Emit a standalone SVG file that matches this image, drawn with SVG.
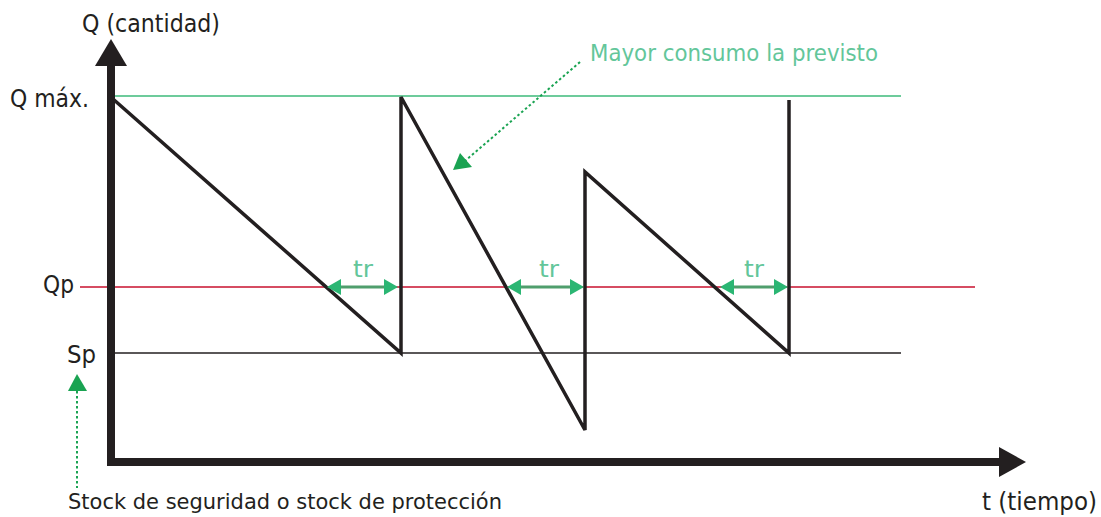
<svg xmlns="http://www.w3.org/2000/svg" width="1101" height="517" viewBox="0 0 1101 517">
<style>
.lbl{font-family:"DejaVu Sans","Liberation Sans",sans-serif;fill:#231f20}
.grn{font-family:"DejaVu Sans","Liberation Sans",sans-serif;fill:#63c69a}
.axis{stroke:#231f20;stroke-width:8;fill:none}
.saw{stroke:#231f20;stroke-width:3.5;fill:none;stroke-linejoin:miter}
.dot{stroke:#1aa352;stroke-width:2;stroke-dasharray:2.5 2.5;fill:none}
.tr{stroke:#4f9e6c;stroke-width:3}
.trh{fill:#2bb673}
</style>
<rect width="1101" height="517" fill="#ffffff"/>
<g id="levels">
<line x1="113" y1="96" x2="901" y2="96" stroke="#3dba7a" stroke-width="1.6"/>
<line x1="80" y1="287" x2="975" y2="287" stroke="#c8102e" stroke-width="1.6"/>
<line x1="113" y1="353" x2="901" y2="353" stroke="#231f20" stroke-width="1.6"/>
</g>
<g id="axes">
<line class="axis" x1="111" y1="64" x2="111" y2="466"/>
<polygon points="95,66 111,39 127,66" fill="#231f20"/>
<line class="axis" x1="107" y1="462" x2="1001" y2="462"/>
<polygon points="999,447 1026,462 999,477" fill="#231f20"/>
</g>
<g id="sawtooth">
<polyline class="saw" points="113,99 401,353 401,97 585,430 585,172 789,353 789,100"/>
</g>
<g id="connectors">
<g id="tr1">
<line class="tr" x1="338" y1="287" x2="387" y2="287"/>
<polygon class="trh" points="327,287 341,279 341,295"/>
<polygon class="trh" points="398,287 384,279 384,295"/>
</g>
<g id="tr2">
<line class="tr" x1="518" y1="287" x2="573" y2="287"/>
<polygon class="trh" points="507,287 521,279 521,295"/>
<polygon class="trh" points="584,287 570,279 570,295"/>
</g>
<g id="tr3">
<line class="tr" x1="731" y1="287" x2="777" y2="287"/>
<polygon class="trh" points="720,287 734,279 734,295"/>
<polygon class="trh" points="788,287 774,279 774,295"/>
</g>
<g id="callout-consumo">
<line class="dot" x1="580" y1="62" x2="465" y2="161"/>
<polygon points="453,170 460,153 472,167" fill="#1aa352"/>
</g>
<g id="callout-stock">
<line class="dot" x1="77" y1="391" x2="77" y2="488"/>
<polygon points="77,374 68,391 87,391" fill="#1aa352"/>
</g>
</g>
<g id="labels">
<text class="lbl" x="82" y="32" font-size="24" textLength="138" lengthAdjust="spacingAndGlyphs">Q (cantidad)</text>
<text class="lbl" x="10" y="107" font-size="24" textLength="79" lengthAdjust="spacingAndGlyphs">Q máx.</text>
<text class="lbl" x="43" y="293" font-size="24" textLength="31" lengthAdjust="spacingAndGlyphs">Qp</text>
<text class="lbl" x="67" y="363" font-size="24" textLength="29" lengthAdjust="spacingAndGlyphs">Sp</text>
<text class="lbl" x="68" y="509" font-size="21" fill="#333" textLength="434" lengthAdjust="spacingAndGlyphs">Stock de seguridad o stock de protección</text>
<text class="lbl" x="982" y="510" font-size="24" textLength="115" lengthAdjust="spacingAndGlyphs">t (tiempo)</text>
<text class="grn" x="590" y="61" font-size="23" textLength="288" lengthAdjust="spacingAndGlyphs">Mayor consumo la previsto</text>
<text class="grn" x="353" y="277" font-size="23" textLength="20" lengthAdjust="spacingAndGlyphs">tr</text>
<text class="grn" x="539" y="277" font-size="23" textLength="20" lengthAdjust="spacingAndGlyphs">tr</text>
<text class="grn" x="744" y="277" font-size="23" textLength="20" lengthAdjust="spacingAndGlyphs">tr</text>
</g>
</svg>
